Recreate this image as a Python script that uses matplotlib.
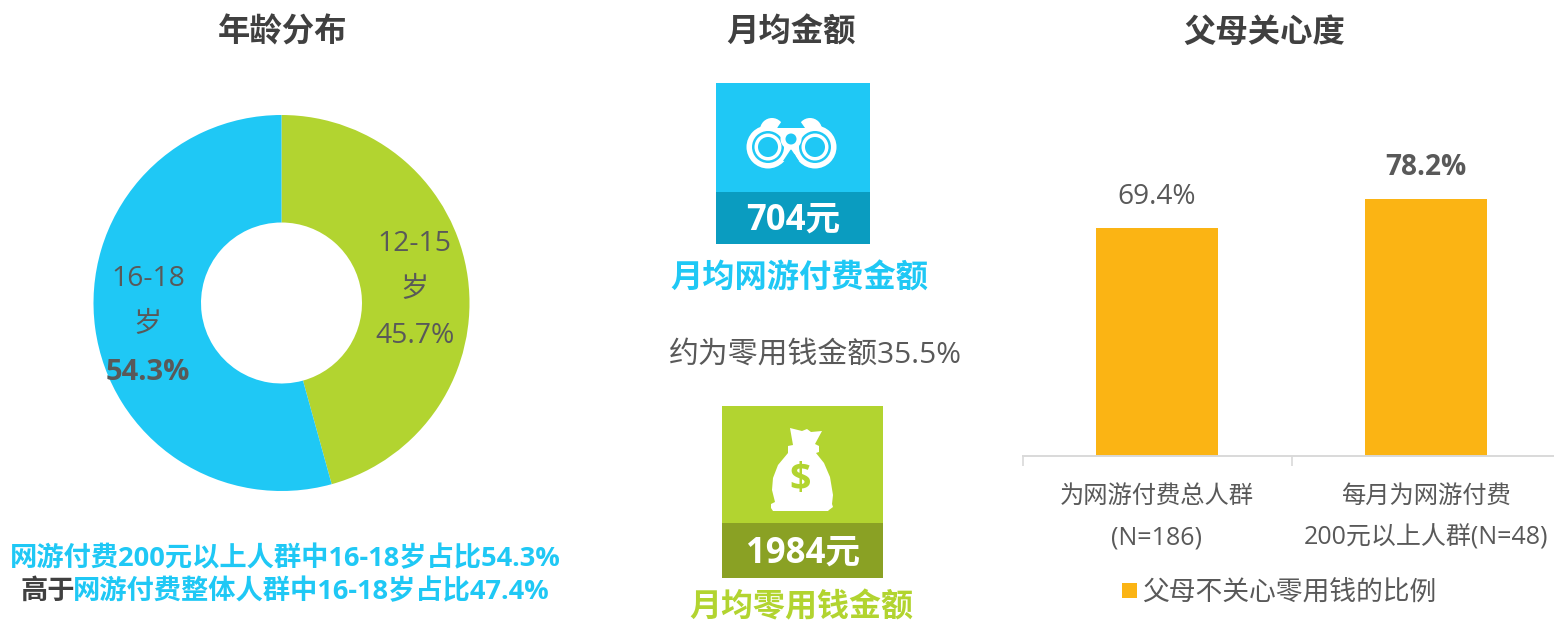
import matplotlib
matplotlib.use('Agg')
import matplotlib.pyplot as plt
from matplotlib.patches import Rectangle, Circle, Polygon, Ellipse

W, H = 1554, 623
FONT = ['Open Sans', 'Noto Sans CJK SC', 'DejaVu Sans']
plt.rcParams['font.family'] = FONT

titles = ['年龄分布', '月均金额', '父母关心度']
age_labels = ['12-15\n岁\n45.7%', '16-18\n岁\n']
age_values = [45.7, 54.3]
age_bold = '54.3%'
amounts = ['704元', '1984元']
amount_names = ['月均网游付费金额', '月均零用钱金额']
ratio_note = '约为零用钱金额35.5%'
bar_categories = ['为网游付费总人群\n(N=186)', '每月为网游付费\n200元以上人群(N=48)']
bar_values = [69.4, 78.2]
bar_labels = ['69.4%', '78.2%']
legend_label = '父母不关心零用钱的比例'
note_line1 = '网游付费200元以上人群中16-18岁占比54.3%'
note_line2a = '高于'
note_line2b = '网游付费整体人群中16-18岁占比47.4%'

BLUE, BLUE_D = '#1FC8F5', '#0A9CC0'
GREEN, GREEN_D = '#B2D430', '#8AA124'
ORANGE = '#FBB414'
GREY, DARK = '#595959', '#404040'

fig = plt.figure(figsize=(W / 100, H / 100), dpi=100, facecolor='white')


def axes_px(x0, y0, x1, y1, **kw):
    return fig.add_axes([x0 / W, 1 - y1 / H, (x1 - x0) / W, (y1 - y0) / H], **kw)


# Overlay in pixel coordinates for the decorations and free text
ov = axes_px(0, 0, W, H, zorder=5)
ov.set_xlim(0, W)
ov.set_ylim(H, 0)
ov.axis('off')
ov.patch.set_alpha(0)


def T(x, y, s, size, color=GREY, bold=False, ha='center'):
    return ov.text(x, y + 3, s, fontsize=size, color=color, ha=ha, va='center',
                   fontweight='bold' if bold else 'normal', family=FONT)


for x, s in zip([282.5, 791.5, 1264.5], titles):
    T(x, 30, s, 23.3, DARK, True)

# Donut
pa = axes_px(93.5, 115, 469.5, 491)
pa.pie(age_values, colors=[GREEN, BLUE], startangle=90, counterclock=False,
       radius=1.0, wedgeprops=dict(width=1 - 80.5 / 188, linewidth=0))
pa.set_xlim(-1, 1)
pa.set_ylim(-1, 1)

for i, s in enumerate(age_labels[0].split('\n')):
    T(414.5, 241 + i * 46, s, 20.3)
for i, s in enumerate(age_labels[1].split('\n')[:2]):
    T(148, 276 + i * 46, s, 20.3)
T(148, 369, age_bold, 21, GREY, True)

T(285, 556, note_line1, 19.65, BLUE, True)
T(21, 589, note_line2a, 19.65, DARK, True, ha='left')
T(73, 589, note_line2b, 19.65, BLUE, True, ha='left')

# Middle blocks
ov.add_patch(Rectangle((716, 83), 154, 109, fc=BLUE, lw=0))
ov.add_patch(Rectangle((716, 192), 154, 52, fc=BLUE_D, lw=0))
ov.add_patch(Rectangle((722, 406), 161, 117, fc=GREEN, lw=0))
ov.add_patch(Rectangle((722, 523), 161, 55, fc=GREEN_D, lw=0))

# Binocular icon
for cx in (772, 810):
    ov.add_patch(Ellipse((cx, 130), 24, 24, fc='white', lw=0))
    ov.add_patch(Ellipse((cx, 134), 17, 13, fc=BLUE, lw=0))
ov.add_patch(Polygon([[765, 128], [820, 128], [830, 147], [791, 155], [752, 147]], fc='white', lw=0))
ov.add_patch(Polygon([[777, 128], [784, 118], [798, 118], [805, 128]], fc=BLUE, lw=0))
for cx in (768, 815):
    ov.add_patch(Circle((cx, 147), 21.5, fc='white', lw=0))
ov.add_patch(Polygon([[791, 149], [783, 161], [799, 161]], fc=BLUE, lw=0))
for cx in (768, 815):
    ov.add_patch(Circle((cx, 147), 16, fc=BLUE, lw=0))
    ov.add_patch(Circle((cx, 147), 13.5, fc='white', lw=0))
    ov.add_patch(Circle((cx, 147), 10, fc=BLUE, lw=0))
ov.add_patch(Circle((791, 139), 10.5, fc='white', lw=0))
ov.add_patch(Circle((791, 139), 5.5, fc=BLUE, lw=0))

# Money bag icon
bag = [[790, 428], [802, 431], [807, 429], [811, 432], [822, 431], [815, 444],
       [819, 446], [819, 452], [816, 453], [824, 463], [830, 477], [833, 495],
       [832, 504], [833, 507], [829, 510], [828, 511], [773, 511], [771, 508],
       [771, 504], [775, 502], [772, 490], [773, 478], [778, 465], [788, 453],
       [788, 446], [793, 445]]
ov.add_patch(Polygon(bag, fc='white', lw=0))
ov.text(800.5, 480, '$', fontsize=27, color=GREEN, ha='center', va='center',
        fontweight='bold', family=FONT)

T(793, 218, amounts[0], 25, 'white', True)
T(803, 551, amounts[1], 25, 'white', True)
T(799.5, 276, amount_names[0], 23.2, BLUE, True)
T(801, 604.5, amount_names[1], 23, GREEN, True)
T(815, 352, ratio_note, 21.5, GREY)

# Bars
ba = axes_px(1022.5, 127, 1560.5, 456)
ba.patch.set_alpha(0)
ba.bar(range(len(bar_values)), bar_values, width=0.454, color=ORANGE, linewidth=0)
ba.set_xlim(-0.5, 1.5)
ba.set_ylim(0, 100)
for s in ('top', 'left', 'right'):
    ba.spines[s].set_visible(False)
ba.spines['bottom'].set_color('#D9D9D9')
ba.spines['bottom'].set_linewidth(1.4)
ba.set_yticks([])
ba.set_xticks([-0.5, 0.5, 1.5])
ba.set_xticklabels([])
ba.tick_params(axis='x', length=7, width=1.2, color='#D9D9D9', direction='out')

for i, (v, s) in enumerate(zip(bar_values, bar_labels)):
    ba.annotate(s, (i, v), xytext=(0, 17), textcoords='offset pixels', ha='center',
                va='bottom', fontsize=20.2, color=GREY,
                fontweight='bold' if i == 1 else 'normal', family=FONT)

for x, lab in zip([1157, 1426], bar_categories):
    first, second = lab.split('\n')
    T(x, 494, first, 17.5)
    T(x, 535, second, 18)

ov.add_patch(Rectangle((1122, 583), 15, 15, fc=ORANGE, lw=0))
T(1142, 591, legend_label, 19.3, GREY, ha='left')

fig.savefig('out.png', dpi=100)
